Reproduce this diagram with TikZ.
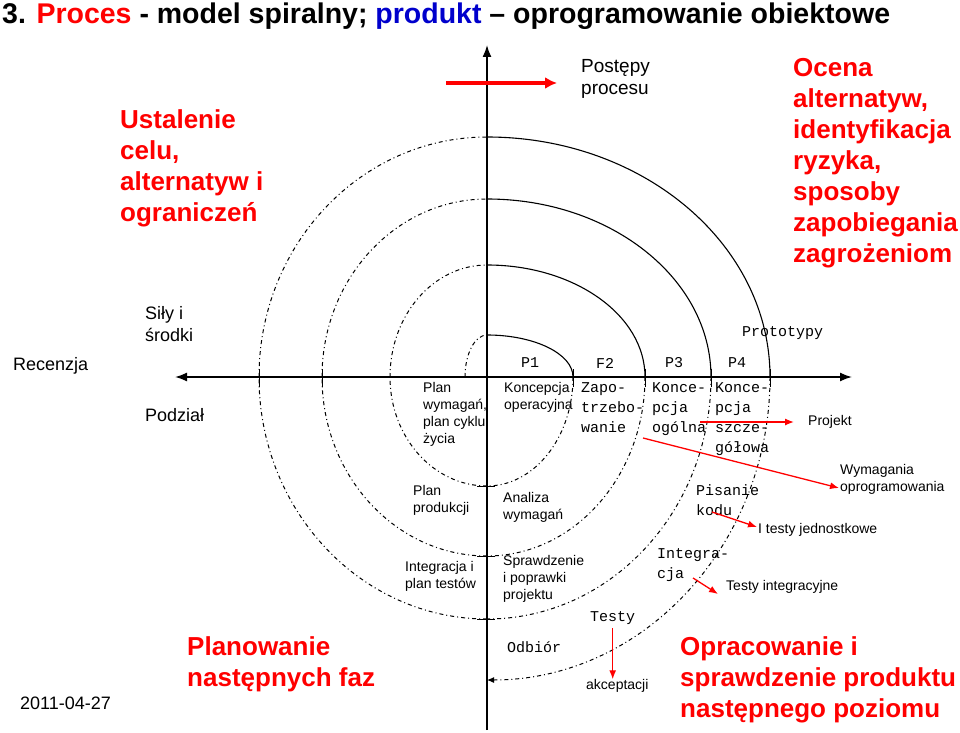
\documentclass[tikz,border=0pt]{standalone}
\usepackage{fontspec}
\usetikzlibrary{arrows.meta}
\setmainfont{Liberation Sans}
\newfontfamily\pix{Liberation Mono}
\begin{document}
\begin{tikzpicture}[x=1pt,y=1pt,
  sm/.style={font=\fontsize{14}{17}\selectfont,align=left,inner sep=0pt},
  px/.style={font=\pix\fontsize{15}{20}\selectfont,align=left,inner sep=0pt},
  big/.style={font=\bfseries\fontsize{26}{31}\selectfont,text=red,align=left,inner sep=0pt},
  rarr/.style={draw=red,line width=1.3pt,-{Latex[length=9pt,width=7pt]}},
  spd/.style={line width=1pt,dash pattern=on 4pt off 3pt on 1pt off 3pt},
  sps/.style={line width=1.1pt},
  ax/.style={line width=1.6pt,-{Latex[length=12pt,width=9pt]}}]
\useasboundingbox (0,0) rectangle (960,732);
\coordinate (O) at (487,355);
\coordinate (axT) at (487,687); \coordinate (axB) at (487,2);
\coordinate (axL) at (175,355); \coordinate (axR) at (852,355);
\draw[line width=1.6pt] (axB) -- (O);
\draw[ax] (O) -- (axT);
\draw[ax] (O) -- (axL);
\draw[ax] (O) -- (axR);
\begin{scope}[shift={(O)}]
\draw[spd] (-22,0) arc[start angle=180,end angle=90,x radius=22,y radius=42];
\draw[sps] (0,42) arc[start angle=90,end angle=0,x radius=86,y radius=42];
\draw[spd] (86,0) arc[start angle=0,end angle=-90,x radius=86,y radius=109];
\draw[spd] (0,-109) arc[start angle=-90,end angle=-180,x radius=97,y radius=109];
\draw[spd] (-97,0) arc[start angle=180,end angle=90,x radius=97,y radius=112];
\draw[sps] (0,112) arc[start angle=90,end angle=0,x radius=158,y radius=112];
\draw[spd] (158,0) arc[start angle=0,end angle=-90,x radius=158,y radius=179];
\draw[spd] (0,-179) arc[start angle=-90,end angle=-180,x radius=165,y radius=179];
\draw[spd] (-165,0) arc[start angle=180,end angle=90,x radius=165,y radius=178];
\draw[sps] (0,178) arc[start angle=90,end angle=0,x radius=224,y radius=178];
\draw[spd] (224,0) arc[start angle=0,end angle=-90,x radius=224,y radius=242];
\draw[spd] (0,-242) arc[start angle=-90,end angle=-180,x radius=228,y radius=242];
\draw[spd] (-228,0) arc[start angle=180,end angle=90,x radius=228,y radius=240];
\draw[sps] (0,240) arc[start angle=90,end angle=0,x radius=283,y radius=240];
\draw[spd,-{Latex[length=7pt,width=6pt]}] (283,0) arc[start angle=0,end angle=-90,x radius=283,y radius=303];
\foreach \t in {-228,-165,86,158,224,283} \draw[line width=1pt] (\t,-10) -- (\t,8);
\foreach \t in {-109,-179,-242} \draw[line width=1pt] (-10,\t) -- (8,\t);
\end{scope}
\node[anchor=west,inner sep=0pt,font=\bfseries\fontsize{28.5}{32}\selectfont] (title) at (2,716)
 {3. \textcolor{red}{Proces} - model spiralny; \textcolor{blue!80!black}{produkt} -- oprogramowanie obiektowe};
\node[big,anchor=north west] (ust) at (120,623) {Ustalenie\\celu,\\alternatyw i\\ograniczeń};
\node[big,anchor=north west] (oc) at (793,674) {Ocena\\alternatyw,\\identyfikacja\\ryzyka,\\sposoby\\zapobiegania\\zagrożeniom};
\node[big,anchor=north west] (pl) at (187,96) {Planowanie\\następnych faz};
\node[big,anchor=north west] (op) at (680,96) {Opracowanie i\\sprawdzenie produktu\\następnego poziomu};
\node[sm,anchor=north west,font=\fontsize{19}{22}\selectfont] (pp) at (581,673) {Postępy\\procesu};
\coordinate (ra) at (446,649); \coordinate (rb) at (557,649);
\draw[draw=red,line width=3.5pt,-{Latex[length=12pt,width=12pt]}] (ra) -- (rb);
\node[anchor=west,inner sep=0pt,font=\fontsize{18}{20}\selectfont] (rec) at (13,366) {Recenzja};
\node[anchor=north west,align=left,inner sep=0pt,font=\fontsize{18}{22}\selectfont] (si) at (145,426) {Siły i\\środki};
\node[anchor=west,inner sep=0pt,font=\fontsize{18}{20}\selectfont] (pod) at (145,317) {Podział};
\node[anchor=west,inner sep=0pt,font=\fontsize{18}{20}\selectfont] (dt) at (20,29) {2011-04-27};
\node[sm,anchor=north west] (pw) at (423,350) {Plan\\wymagań,\\plan cyklu\\życia};
\node[sm,anchor=north west] (ko) at (504,350) {Koncepcja\\operacyjna};
\node[sm,anchor=north west] (pp2) at (413,247) {Plan\\produkcji};
\node[sm,anchor=north west] (aw) at (503,240) {Analiza\\wymagań};
\node[sm,anchor=north west] (it) at (405,171) {Integracja i\\plan testów};
\node[sm,anchor=north west] (sp) at (503,177) {Sprawdzenie\\i poprawki\\projektu};
\node[sm,anchor=west] (proj) at (808,310) {Projekt};
\node[sm,anchor=north west] (wo) at (840,268) {Wymagania\\oprogramowania};
\node[sm,anchor=west] (itj) at (758,202) {I testy jednostkowe};
\node[sm,anchor=west] (ti) at (726,145) {Testy integracyjne};
\node[sm,anchor=west] (ak) at (586,46) {akceptacji};
\node[px,anchor=west] (p1) at (521,369) {P1};
\node[px,anchor=west] (f2) at (596,369) {F2};
\node[px,anchor=west] (p3) at (665,369) {P3};
\node[px,anchor=west] (p4) at (728,369) {P4};
\node[px,anchor=west] (prt) at (742,399) {Prototypy};
\node[px,anchor=north west] (za) at (581,350) {Zapo-\\trzebo-\\wanie};
\node[px,anchor=north west] (k1) at (652,350) {Konce-\\pcja\\ogólna};
\node[px,anchor=north west] (k2) at (715,350) {Konce-\\pcja\\szcze-\\gółowa};
\node[px,anchor=north west] (pk) at (696,248) {Pisanie\\kodu};
\node[px,anchor=north west] (ig) at (657,184) {Integra-\\cja};
\node[px,anchor=west] (te) at (590,114) {Testy};
\node[px,anchor=west] (od) at (507,85) {Odbiór};
\coordinate (a1) at (700,310); \coordinate (a2) at (794,310);
\draw[rarr] (a1) -- (a2);
\coordinate (b1) at (643,294); \coordinate (b2) at (839,244);
\draw[rarr] (b1) -- (b2);
\coordinate (c1) at (712,220); \coordinate (c2) at (757,205);
\draw[rarr] (c1) -- (c2);
\coordinate (d1) at (693,154); \coordinate (d2) at (718,138);
\draw[rarr] (d1) -- (d2);
\draw[rarr] (te.south) ++(0,-3) -- (ak.north -| te.south);
\end{tikzpicture}
\end{document}
